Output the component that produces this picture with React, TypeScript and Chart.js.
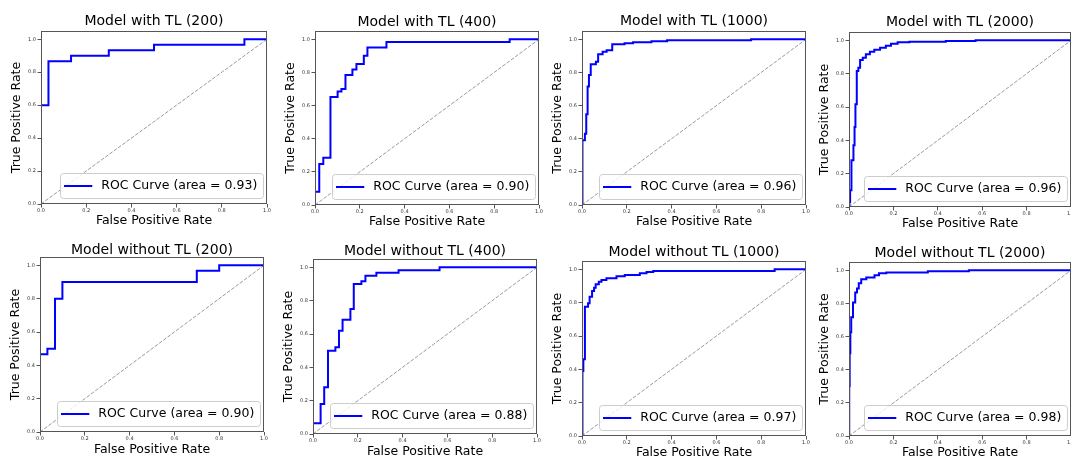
import React, { useEffect, useRef } from "react";
import { Chart, registerables } from "chart.js";

Chart.register(...registerables);

const FONT = "'DejaVu Sans', Verdana, sans-serif";

const TITLES = [
  "Model with TL (200)",
  "Model with TL (400)",
  "Model with TL (1000)",
  "Model with TL (2000)",
  "Model without TL (200)",
  "Model without TL (400)",
  "Model without TL (1000)",
  "Model without TL (2000)",
];
const AUC = [0.93, 0.9, 0.96, 0.96, 0.9, 0.88, 0.97, 0.98];
const TICKS = [0, 0.2, 0.4, 0.6, 0.8, 1.0];
const X_LABEL = "False Positive Rate";
const Y_LABEL = "True Positive Rate";

// ROC vertices (step drawn: horizontal then vertical)
const FPR_TL_200 = [0, 0, 0.033, 0.133, 0.3, 0.5, 0.9, 1];
const TPR_TL_200 = [0, 0.6, 0.867, 0.9, 0.933, 0.967, 1, 1];

const FPR_TL_400 = [0, 0, 0.019, 0.037, 0.069, 0.101, 0.118, 0.136, 0.167, 0.185, 0.218, 0.234, 0.319, 0.869, 1];
const TPR_TL_400 = [0, 0.08, 0.247, 0.285, 0.651, 0.685, 0.7, 0.785, 0.817, 0.851, 0.9, 0.95, 0.984, 1, 1];

const FPR_TL_1000 = [0, 0.002, 0.013, 0.019, 0.025, 0.031, 0.039, 0.062, 0.072, 0.092, 0.11, 0.135, 0.19, 0.228, 0.31, 0.38, 0.755, 1];
const TPR_TL_1000 = [0, 0.39, 0.43, 0.548, 0.715, 0.785, 0.849, 0.865, 0.91, 0.925, 0.934, 0.97, 0.976, 0.982, 0.988, 0.994, 1, 1];

const FPR_TL_2000 = [0, 0.002, 0.005, 0.011, 0.02, 0.025, 0.029, 0.035, 0.042, 0.05, 0.062, 0.076, 0.094, 0.114, 0.14, 0.166, 0.189, 0.219, 0.272, 0.436, 0.57, 1];
const TPR_TL_2000 = [0, 0.03, 0.1, 0.28, 0.37, 0.48, 0.616, 0.816, 0.836, 0.882, 0.896, 0.916, 0.932, 0.944, 0.956, 0.968, 0.98, 0.988, 0.992, 0.996, 1, 1];

const FPR_NOTL_200 = [0, 0, 0.033, 0.067, 0.1, 0.7, 0.8, 1];
const TPR_NOTL_200 = [0, 0.467, 0.5, 0.8, 0.9, 0.967, 1, 1];

const FPR_NOTL_400 = [0, 0, 0.034, 0.05, 0.067, 0.1, 0.116, 0.132, 0.167, 0.182, 0.216, 0.234, 0.283, 0.382, 0.565, 1];
const TPR_NOTL_400 = [0, 0.065, 0.18, 0.28, 0.5, 0.52, 0.62, 0.685, 0.75, 0.9, 0.917, 0.95, 0.967, 0.983, 1, 1];

const FPR_NOTL_1000 = [0, 0.002, 0.006, 0.013, 0.027, 0.034, 0.045, 0.054, 0.061, 0.075, 0.087, 0.109, 0.154, 0.191, 0.258, 0.288, 0.318, 0.86, 1];
const TPR_NOTL_1000 = [0, 0.39, 0.46, 0.775, 0.796, 0.836, 0.87, 0.89, 0.91, 0.926, 0.936, 0.946, 0.958, 0.966, 0.976, 0.984, 0.99, 1, 1];

const FPR_NOTL_2000 = [0, 0.001, 0.003, 0.006, 0.01, 0.018, 0.028, 0.036, 0.044, 0.055, 0.078, 0.115, 0.135, 0.168, 0.355, 0.54, 1];
const TPR_NOTL_2000 = [0, 0.3, 0.5, 0.626, 0.716, 0.806, 0.866, 0.89, 0.922, 0.946, 0.956, 0.97, 0.982, 0.986, 0.994, 1, 1];

const CURVES: [number[], number[]][] = [
  [FPR_TL_200, TPR_TL_200],
  [FPR_TL_400, TPR_TL_400],
  [FPR_TL_1000, TPR_TL_1000],
  [FPR_TL_2000, TPR_TL_2000],
  [FPR_NOTL_200, TPR_NOTL_200],
  [FPR_NOTL_400, TPR_NOTL_400],
  [FPR_NOTL_1000, TPR_NOTL_1000],
  [FPR_NOTL_2000, TPR_NOTL_2000],
];

// layout: plot-area boxes in page pixels
const PANELS = [
  { l: 41, r: 267, t: 31, b: 204, gap: 9.5, xlab: 17 },
  { l: 315, r: 539, t: 31, b: 205, gap: 9, xlab: 17 },
  { l: 582, r: 806, t: 31, b: 205, gap: 9.3, xlab: 17 },
  { l: 849, r: 1071, t: 32, b: 207, gap: 10, xlab: 17 },
  { l: 40, r: 264, t: 257, b: 432, gap: 7, xlab: 18 },
  { l: 313, r: 537, t: 259, b: 434, gap: 7.6, xlab: 18 },
  { l: 582, r: 806, t: 261, b: 436, gap: 9, xlab: 17 },
  { l: 849, r: 1071, t: 262, b: 436, gap: 8.4, xlab: 17 },
];

const ML = 42;
const MT = 26;
const MR = 8;
const MB = 34;

const framePlugin = {
  id: "frame",
  afterDatasetsDraw(chart: any) {
    const { ctx, chartArea } = chart;
    const { left, top, right, bottom } = chartArea;
    ctx.save();
    ctx.strokeStyle = "#555";
    ctx.lineWidth = 1;
    ctx.strokeRect(left + 0.5, top + 0.5, right - left - 1, bottom - top - 1);
    ctx.restore();
  },
};

const legendPlugin = {
  id: "insideLegend",
  afterDraw(chart: any) {
    const ds = chart.data.datasets[0];
    const ctx = chart.ctx;
    const ca = chart.chartArea;
    ctx.save();
    ctx.font = `12.5px ${FONT}`;
    const tw = ctx.measureText(ds.label).width;
    const w = 4 + 28.3 + 9 + tw + 5.7;
    const h = 25;
    const x = Math.round(ca.right - 4.5 - w);
    const y = Math.round(ca.bottom - 6 - h);
    ctx.beginPath();
    ctx.roundRect(x + 0.5, y + 0.5, w, h, 3);
    ctx.fillStyle = "rgba(255,255,255,0.8)";
    ctx.fill();
    ctx.strokeStyle = "#cccccc";
    ctx.lineWidth = 1;
    ctx.stroke();
    const cy = y + h / 2 + 0.5;
    ctx.beginPath();
    ctx.moveTo(x + 4, cy);
    ctx.lineTo(x + 32.3, cy);
    ctx.strokeStyle = ds.borderColor;
    ctx.lineWidth = 2;
    ctx.stroke();
    ctx.fillStyle = "#000";
    ctx.textBaseline = "middle";
    ctx.textAlign = "left";
    ctx.fillText(ds.label, x + 41.3, cy);
    ctx.restore();
  },
};

function Panel({ index }: { index: number }) {
  const ref = useRef<HTMLCanvasElement | null>(null);
  const p = PANELS[index];
  const width = p.r - p.l + ML + MR;
  const height = p.b - p.t + MT + MB;

  useEffect(() => {
    const [fpr, tpr] = CURVES[index];
    const tickSetter = (s: any) => {
      s.ticks = TICKS.map((v) => ({ value: v }));
    };
    const chart = new Chart(ref.current as HTMLCanvasElement, {
      type: "line",
      data: {
        datasets: [
          {
            label: `ROC Curve (area = ${AUC[index].toFixed(2)})`,
            data: fpr.map((x, i) => ({ x, y: tpr[i] })),
            borderColor: "#0000ff",
            borderWidth: 2,
            stepped: "before",
            pointRadius: 0,
            fill: false,
          },
          {
            label: "chance",
            data: [
              { x: 0, y: 0 },
              { x: 1, y: 1 },
            ],
            borderColor: "#999999",
            borderWidth: 1,
            borderDash: [3.7, 1.6],
            pointRadius: 0,
            fill: false,
          },
        ],
      },
      options: {
        responsive: false,
        animation: false,
        devicePixelRatio: 1,
        layout: { padding: { left: 0, right: MR, top: 0, bottom: 0 } },
        plugins: {
          legend: { display: false },
          tooltip: { enabled: false },
          title: {
            display: true,
            text: TITLES[index],
            fullSize: false,
            color: "#000",
            font: { family: FONT, size: 14, lineHeight: 1, weight: "normal" },
            padding: { top: MT - p.gap - 7, bottom: p.gap - 7 },
          },
        },
        scales: {
          x: {
            type: "linear",
            min: 0,
            max: 1,
            afterBuildTicks: tickSetter,
            afterFit: (s: any) => {
              s.height = MB;
            },
            grid: { display: true, drawOnChartArea: false, drawTicks: true, tickLength: 3.5, color: "#555" },
            border: { display: false },
            ticks: {
              font: { family: FONT, size: 5 },
              color: "#333",
              padding: 0.5,
              maxRotation: 0,
              autoSkip: false,
              callback: (v: any) => Number(v).toFixed(1),
            },
            title: {
              display: true,
              text: X_LABEL,
              color: "#000",
              font: { family: FONT, size: 12.5, lineHeight: 1.2 },
              padding: { top: 0, bottom: MB - 7.5 - p.xlab },
            },
          },
          y: {
            type: "linear",
            min: 0,
            max: 1.05,
            afterBuildTicks: tickSetter,
            afterFit: (s: any) => {
              s.width = ML;
            },
            grid: { display: true, drawOnChartArea: false, drawTicks: true, tickLength: 3.5, color: "#555" },
            border: { display: false },
            ticks: {
              font: { family: FONT, size: 5 },
              color: "#333",
              padding: 1.5,
              autoSkip: false,
              callback: (v: any) => Number(v).toFixed(1),
            },
            title: {
              display: true,
              text: Y_LABEL,
              color: "#000",
              font: { family: FONT, size: 12.5, lineHeight: 1.2 },
              padding: { top: ML - 24 - 7.5, bottom: 0 },
            },
          },
        },
      },
      plugins: [framePlugin, legendPlugin],
    } as any);
    return () => chart.destroy();
  }, [index]);

  return (
    <canvas
      ref={ref}
      width={width}
      height={height}
      style={{
        position: "absolute",
        left: p.l - ML,
        top: p.t - MT,
        width,
        height,
        display: "block",
      }}
    />
  );
}

export default function App() {
  return (
    <div
      style={{
        position: "fixed",
        left: 0,
        top: 0,
        width: 1071,
        height: 459,
        overflow: "hidden",
        background: "#fff",
      }}
    >
      {PANELS.map((_, i) => (
        <Panel key={i} index={i} />
      ))}
    </div>
  );
}
